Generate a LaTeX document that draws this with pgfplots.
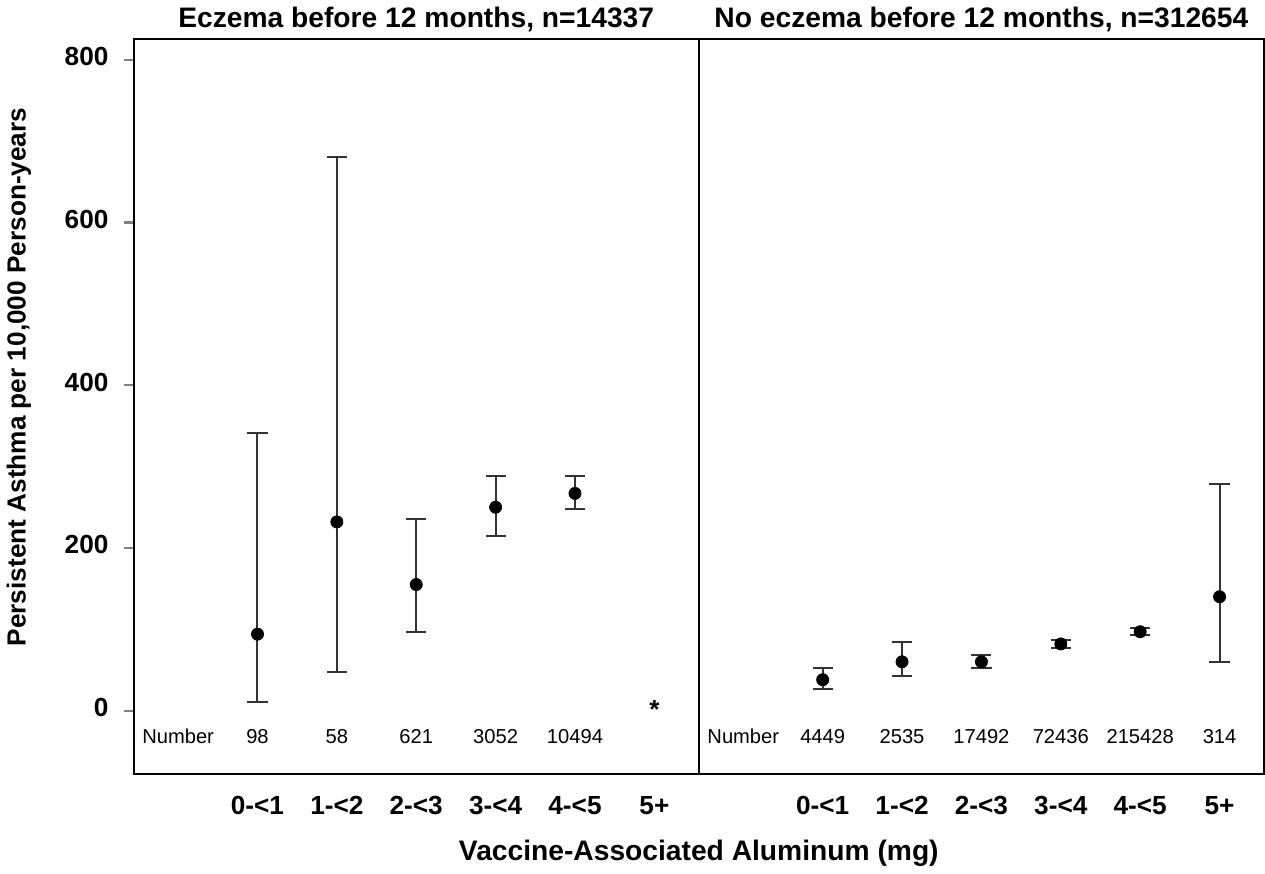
\documentclass[border=0pt]{standalone}
\usepackage{fontspec}
\setmainfont{Liberation Sans}
\usepackage{pgfplots}
\pgfplotsset{compat=1.18}

\pgfplotsset{
  panel/.style={
    scale only axis, width=280.5pt, height=365pt,
    xmin=-0.56, xmax=6.56, ymin=-78, ymax=826,
    axis line style={line width=1pt},
    xtick={1,...,6},
    xticklabels={0-<1,1-<2,2-<3,3-<4,4-<5,5+},
    xtick style={draw=none},
    typeset ticklabels with strut,
    xticklabel style={yshift=-1pt},
    tick align=outside,
    ytick pos=left,
    major tick length=5pt,
    ticklabel style={font=\fontsize{13}{15}\selectfont\bfseries},
    /pgf/number format/assume math mode=true,
    title style={font=\fontsize{14}{16}\selectfont\bfseries, yshift=-6pt},
    clip=false,
  },
  ci/.style={only marks, mark=*, mark size=3pt, black,
    error bars/.cd, y dir=both, y explicit,
    error bar style={line width=1pt, black!80},
    error mark options={rotate=90, mark size=5pt, line width=1pt, black!80}},
}
\tikzset{num/.style={font=\fontsize{10}{12}\selectfont, anchor=center}}

\begin{document}
\begin{tikzpicture}
\begin{axis}[panel, name=a1,
  title={Eczema before 12 months, n=14337},
  ytick={0,200,400,600,800},
  ytick style={line width=1pt},
  yticklabel style={xshift=-4pt},
  ylabel={Persistent Asthma per 10,000 Person-years},
  every axis y label/.style={at={(axis description cs:-0.203,0.54)}, rotate=90, anchor=center,
    font=\fontsize{13}{15}\selectfont\bfseries},
  xlabel={Vaccine-Associated Aluminum (mg)},
  every axis x label/.style={at={(axis description cs:1,0)}, anchor=center, yshift=-39.5pt,
    font=\fontsize{14}{16}\selectfont\bfseries},
]
% (x, estimate) += upper, -= lower
\addplot[ci] coordinates {
  (1,94)  += (0,247) -= (0,83)
  (2,232) += (0,448) -= (0,185)
  (3,155) += (0,81)  -= (0,58)
  (4,250) += (0,39)  -= (0,35)
  (5,267) += (0,22)  -= (0,19)
};
\node[num] at (axis cs:0,-32) {Number};
\node[num] at (axis cs:1,-32) {98};
\node[num] at (axis cs:2,-32) {58};
\node[num] at (axis cs:3,-32) {621};
\node[num] at (axis cs:4,-32) {3052};
\node[num] at (axis cs:5,-32) {10494};
\node[font=\fontsize{13}{15}\selectfont\bfseries] at (axis cs:6,2) {*};
\end{axis}

\begin{axis}[panel, name=a2, at={(a1.south east)}, anchor=south west,
  title={No eczema before 12 months, n=312654},
  ytick=\empty,
]
\addplot[ci] coordinates {
  (1,38)  += (0,15)  -= (0,12)
  (2,60)  += (0,24)  -= (0,18)
  (3,60)  += (0,8)   -= (0,8)
  (4,82)  += (0,5)   -= (0,5)
  (5,97)  += (0,4)   -= (0,4)
  (6,140) += (0,138) -= (0,80)
};
\node[num] at (axis cs:0,-32) {Number};
\node[num] at (axis cs:1,-32) {4449};
\node[num] at (axis cs:2,-32) {2535};
\node[num] at (axis cs:3,-32) {17492};
\node[num] at (axis cs:4,-32) {72436};
\node[num] at (axis cs:5,-32) {215428};
\node[num] at (axis cs:6,-32) {314};
\end{axis}
\end{tikzpicture}
\end{document}
